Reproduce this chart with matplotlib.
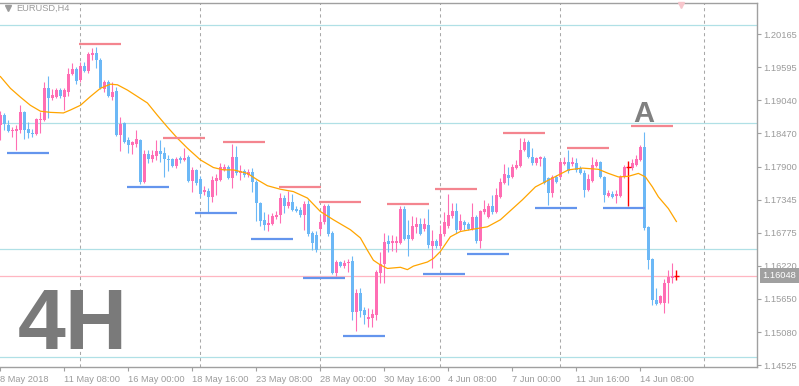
import matplotlib
matplotlib.use("Agg")
import matplotlib.pyplot as plt
from matplotlib.lines import Line2D

plt.rcParams['font.family'] = ['Liberation Sans', 'DejaVu Sans']

# EURUSD H4 candles, 8 May 2018 16:00 .. 15 Jun 2018 20:00 (one entry per bar)
opens = [
    1.1861, 1.1878, 1.1861, 1.1851, 1.1851, 1.1853, 1.1884, 1.1855, 1.1848, 1.1846,
    1.1870, 1.1870, 1.1924, 1.1907, 1.1909, 1.1921, 1.1909, 1.1918, 1.1948, 1.1957,
    1.1938, 1.1962, 1.1953, 1.1980, 1.1984, 1.1972, 1.1923, 1.1935, 1.1909, 1.1919,
    1.1844, 1.1865, 1.1836, 1.1827, 1.1829, 1.1836, 1.1765, 1.1812, 1.1804, 1.1809,
    1.1817, 1.1814, 1.1804, 1.1804, 1.1792, 1.1805, 1.1802, 1.1807, 1.1766, 1.1785,
    1.1770, 1.1748, 1.1749, 1.1739, 1.1766, 1.1768, 1.1785, 1.1790, 1.1771, 1.1807,
    1.1780, 1.1783, 1.1776, 1.1782, 1.1765, 1.1729, 1.1700, 1.1691, 1.1693, 1.1705,
    1.1708, 1.1737, 1.1724, 1.1731, 1.1719, 1.1717, 1.1708, 1.1727, 1.1678, 1.1674,
    1.1684, 1.1697, 1.1724, 1.1678, 1.1609, 1.1628, 1.1622, 1.1626, 1.1629, 1.1543,
    1.1575, 1.1546, 1.1531, 1.1532, 1.1537, 1.1609, 1.1624, 1.1663, 1.1660, 1.1660,
    1.1660, 1.1719, 1.1674, 1.1668, 1.1688, 1.1693, 1.1684, 1.1691, 1.1655, 1.1663,
    1.1655, 1.1676, 1.1690, 1.1707, 1.1715, 1.1683, 1.1697, 1.1693, 1.1684, 1.1705,
    1.1663, 1.1714, 1.1705, 1.1724, 1.1714, 1.1739, 1.1763, 1.1776, 1.1773, 1.1788,
    1.1792, 1.1819, 1.1833, 1.1807, 1.1797, 1.1804, 1.1805, 1.1771, 1.1746, 1.1773,
    1.1773, 1.1795, 1.1799, 1.1795, 1.1797, 1.1788, 1.1780, 1.1751, 1.1766, 1.1792,
    1.1799, 1.1773, 1.1741, 1.1744, 1.1741, 1.1741, 1.1773, 1.1790, 1.1788, 1.1793,
    1.1802, 1.1824, 1.1688, 1.1633, 1.1563, 1.1558, 1.1558, 1.1592, 1.1600, 1.1605,
]
highs = [
    1.1885, 1.1882, 1.1870, 1.1858, 1.1861, 1.1895, 1.1885, 1.1867, 1.1855, 1.1873,
    1.1884, 1.1935, 1.1945, 1.1923, 1.1924, 1.1924, 1.1924, 1.1958, 1.1967, 1.1960,
    1.1969, 1.1969, 1.1986, 1.1992, 1.1994, 1.1975, 1.1938, 1.1938, 1.1935, 1.1926,
    1.1875, 1.1867, 1.1841, 1.1834, 1.1853, 1.1838, 1.1819, 1.1819, 1.1819, 1.1836,
    1.1836, 1.1824, 1.1810, 1.1805, 1.1807, 1.1809, 1.1822, 1.1810, 1.1790, 1.1787,
    1.1775, 1.1758, 1.1754, 1.1775, 1.1778, 1.1797, 1.1795, 1.1793, 1.1829, 1.1826,
    1.1793, 1.1787, 1.1787, 1.1788, 1.1768, 1.1731, 1.1714, 1.1710, 1.1712, 1.1715,
    1.1746, 1.1742, 1.1749, 1.1744, 1.1724, 1.1722, 1.1732, 1.1734, 1.1681, 1.1680,
    1.1707, 1.1727, 1.1727, 1.1680, 1.1631, 1.1629, 1.1631, 1.1633, 1.1638, 1.1582,
    1.1583, 1.1551, 1.1549, 1.1548, 1.1614, 1.1645, 1.1678, 1.1674, 1.1674, 1.1672,
    1.1724, 1.1724, 1.1700, 1.1707, 1.1705, 1.1703, 1.1703, 1.1719, 1.1683, 1.1668,
    1.1691, 1.1714, 1.1744, 1.1729, 1.1729, 1.1710, 1.1700, 1.1697, 1.1729, 1.1708,
    1.1717, 1.1734, 1.1729, 1.1742, 1.1754, 1.1771, 1.1795, 1.1790, 1.1795, 1.1802,
    1.1839, 1.1839, 1.1836, 1.1822, 1.1807, 1.1809, 1.1809, 1.1773, 1.1776, 1.1776,
    1.1802, 1.1807, 1.1819, 1.1807, 1.1805, 1.1792, 1.1785, 1.1778, 1.1807, 1.1804,
    1.1800, 1.1775, 1.1751, 1.1749, 1.1751, 1.1776, 1.1793, 1.1800, 1.1804, 1.1810,
    1.1827, 1.1850, 1.1690, 1.1634, 1.1583, 1.1571, 1.1599, 1.1614, 1.1626, 1.1614,
]
lows = [
    1.1836, 1.1853, 1.1850, 1.1841, 1.1819, 1.1848, 1.1838, 1.1840, 1.1841, 1.1844,
    1.1848, 1.1868, 1.1873, 1.1904, 1.1907, 1.1907, 1.1887, 1.1911, 1.1946, 1.1931,
    1.1935, 1.1952, 1.1950, 1.1972, 1.1958, 1.1923, 1.1918, 1.1909, 1.1904, 1.1843,
    1.1817, 1.1831, 1.1814, 1.1812, 1.1824, 1.1761, 1.1763, 1.1797, 1.1799, 1.1802,
    1.1799, 1.1773, 1.1783, 1.1790, 1.1788, 1.1797, 1.1800, 1.1765, 1.1748, 1.1759,
    1.1739, 1.1742, 1.1714, 1.1731, 1.1742, 1.1766, 1.1783, 1.1770, 1.1754, 1.1776,
    1.1768, 1.1773, 1.1773, 1.1748, 1.1698, 1.1690, 1.1683, 1.1680, 1.1691, 1.1702,
    1.1695, 1.1712, 1.1720, 1.1715, 1.1714, 1.1705, 1.1683, 1.1673, 1.1648, 1.1645,
    1.1676, 1.1693, 1.1673, 1.1607, 1.1604, 1.1619, 1.1617, 1.1611, 1.1530, 1.1510,
    1.1534, 1.1522, 1.1517, 1.1517, 1.1529, 1.1592, 1.1592, 1.1645, 1.1646, 1.1645,
    1.1658, 1.1665, 1.1638, 1.1666, 1.1678, 1.1674, 1.1681, 1.1652, 1.1617, 1.1652,
    1.1652, 1.1673, 1.1686, 1.1703, 1.1678, 1.1681, 1.1683, 1.1683, 1.1683, 1.1660,
    1.1652, 1.1710, 1.1703, 1.1710, 1.1712, 1.1737, 1.1761, 1.1759, 1.1771, 1.1787,
    1.1790, 1.1817, 1.1805, 1.1793, 1.1793, 1.1792, 1.1761, 1.1725, 1.1739, 1.1763,
    1.1771, 1.1793, 1.1780, 1.1792, 1.1782, 1.1778, 1.1739, 1.1749, 1.1765, 1.1790,
    1.1771, 1.1731, 1.1739, 1.1737, 1.1729, 1.1739, 1.1771, 1.1724, 1.1785, 1.1792,
    1.1800, 1.1683, 1.1616, 1.1555, 1.1555, 1.1556, 1.1541, 1.1558, 1.1593, 1.1597,
]
closes = [
    1.1878, 1.1863, 1.1851, 1.1853, 1.1855, 1.1884, 1.1853, 1.1848, 1.1846, 1.1872,
    1.1872, 1.1924, 1.1907, 1.1912, 1.1921, 1.1911, 1.1921, 1.1948, 1.1957, 1.1936,
    1.1962, 1.1953, 1.1982, 1.1984, 1.1972, 1.1924, 1.1935, 1.1911, 1.1918, 1.1844,
    1.1863, 1.1833, 1.1827, 1.1833, 1.1838, 1.1765, 1.1812, 1.1804, 1.1810, 1.1817,
    1.1812, 1.1804, 1.1802, 1.1792, 1.1804, 1.1802, 1.1805, 1.1766, 1.1785, 1.1763,
    1.1744, 1.1751, 1.1739, 1.1768, 1.1771, 1.1790, 1.1790, 1.1771, 1.1807, 1.1780,
    1.1783, 1.1776, 1.1782, 1.1765, 1.1729, 1.1698, 1.1691, 1.1695, 1.1707, 1.1708,
    1.1737, 1.1724, 1.1731, 1.1717, 1.1715, 1.1708, 1.1727, 1.1676, 1.1660, 1.1648,
    1.1697, 1.1724, 1.1676, 1.1609, 1.1628, 1.1621, 1.1626, 1.1628, 1.1543, 1.1575,
    1.1544, 1.1537, 1.1534, 1.1539, 1.1611, 1.1624, 1.1662, 1.1658, 1.1663, 1.1663,
    1.1719, 1.1668, 1.1668, 1.1690, 1.1693, 1.1676, 1.1693, 1.1657, 1.1663, 1.1655,
    1.1676, 1.1697, 1.1708, 1.1715, 1.1683, 1.1698, 1.1691, 1.1684, 1.1705, 1.1663,
    1.1715, 1.1719, 1.1724, 1.1714, 1.1742, 1.1765, 1.1778, 1.1771, 1.1790, 1.1793,
    1.1819, 1.1833, 1.1807, 1.1797, 1.1805, 1.1807, 1.1763, 1.1746, 1.1773, 1.1765,
    1.1799, 1.1799, 1.1783, 1.1799, 1.1785, 1.1780, 1.1751, 1.1770, 1.1793, 1.1799,
    1.1773, 1.1742, 1.1746, 1.1739, 1.1744, 1.1773, 1.1790, 1.1790, 1.1797, 1.1804,
    1.1824, 1.1686, 1.1631, 1.1563, 1.1556, 1.1570, 1.1592, 1.1602, 1.1604, 1.1605,
]
red_bars = [157, 169]          # bars drawn as red OHLC crosses
last_price = 1.16048

# moving average (bar index, price)
ma_bars = [0, 2.5, 5, 7.5, 10, 12.5, 15.75, 17.5, 20, 22.5, 25, 27.5, 29.25, 31.75,
           34.25, 36.75, 39.25, 41.75, 44.25, 46.75, 50, 53.25, 55.75, 58.25, 61.75,
           64.25, 66.75, 70, 73.25, 76.75, 80, 83.25, 85, 87.5, 90, 91.75, 93.25, 95,
           96.75, 100, 101.75, 103.25, 106.75, 108.25, 110, 112.5, 115, 118.25, 121.75,
           125, 130.5, 133.75, 138, 142, 145.5, 149.5, 152, 154.5, 157, 159.5, 161.25,
           163, 164.5, 167, 169]
ma_vals = [1.1944, 1.1924, 1.1909, 1.1895, 1.1885, 1.1883, 1.1882, 1.1887, 1.1895, 1.1910,
           1.1924, 1.1931, 1.1930, 1.1921, 1.1910, 1.1899, 1.1878, 1.1858, 1.1839, 1.1822,
           1.1802, 1.1789, 1.1785, 1.1785, 1.1779, 1.1768, 1.1758, 1.1752, 1.1748, 1.1737,
           1.1714, 1.1700, 1.1693, 1.1683, 1.1669, 1.1648, 1.1631, 1.1623, 1.1617, 1.1619,
           1.1615, 1.1621, 1.1628, 1.1634, 1.1646, 1.1671, 1.1680, 1.1684, 1.1688, 1.1700,
           1.1734, 1.1756, 1.1771, 1.1785, 1.1788, 1.1786, 1.1779, 1.1773, 1.1774, 1.1779,
           1.1773, 1.1756, 1.1739, 1.1719, 1.1697]

# short resistance / support marks (start bar, level)
res_start = [19.75, 40.75, 55.75, 69.75, 79.75, 96.75, 108.75, 125.75, 141.75, 157.75]
res_level = [1.1999, 1.1840, 1.1833, 1.1755, 1.1731, 1.1727, 1.1753, 1.1847, 1.1823, 1.1859]
sup_start = [1.75, 31.75, 48.75, 62.75, 75.75, 85.75, 105.75, 116.75, 133.75, 150.75]
sup_level = [1.1814, 1.1756, 1.1712, 1.1668, 1.1601, 1.1502, 1.1608, 1.1642, 1.1720, 1.1720]
mark_len = 10.5

h_lines = [1.20318, 1.18643, 1.16496, 1.14656]
week_seps = [20, 50, 80, 110, 140, 176]

x_tick_bars = [0, 16, 32, 48, 64, 80, 96, 112, 128, 144, 160]
x_tick_labels = ['8 May 2018', '11 May 08:00', '16 May 00:00', '18 May 16:00',
                 '23 May 08:00', '28 May 00:00', '30 May 16:00', '4 Jun 08:00',
                 '7 Jun 00:00', '11 Jun 16:00', '14 Jun 08:00']
y_ticks = [1.20165, 1.19595, 1.19040, 1.18470, 1.17900, 1.17345,
           1.16775, 1.16220, 1.15650, 1.15080, 1.14525]

BULL = '#ff6eb4'
BEAR = '#6cb8f6'
GRAY = '#a0a0a0'
TXT = '#9b9b9b'

W, H = 799, 386
fig = plt.figure(figsize=(W / 100, H / 100), dpi=100)
ax = fig.add_axes([0, 1 - 367 / H, 757 / W, (367 - 2.5) / H])

ax.set_xlim(-0.1, 189.15)
ax.set_ylim(1.14491, 1.20702)

for b in week_seps:
    ax.axvline(b, color='#a8a8a8', lw=0.75, ls=(0, (3, 3)), zorder=1)
for lv in h_lines:
    ax.axhline(lv, color='#b0e0e6', lw=0.9, zorder=1)
ax.axhline(last_price, color='#ffb6c1', lw=0.9, zorder=1)

# candles
for i, (o, h, l, c) in enumerate(zip(opens, highs, lows, closes)):
    if i in red_bars:
        ax.vlines(i, l, h, color='#ff0000', lw=1.0, zorder=3)
        ax.hlines(c, i - 0.7, i + 0.7, color='#ff0000', lw=1.0, zorder=3)
        continue
    col = BULL if c >= o else BEAR
    ax.vlines(i, l, h, color=col, lw=0.8, zorder=2)
    ax.bar(i, max(abs(c - o), 0.00018), bottom=min(o, c), width=0.75,
           color=col, linewidth=0, zorder=2)

ax.plot(ma_bars, ma_vals, color='#ffa500', lw=0.9, zorder=3)

ax.hlines(res_level, res_start, [s + mark_len for s in res_start],
          color='#f4858f', lw=1.6, zorder=4)
ax.hlines(sup_level, sup_start, [s + mark_len for s in sup_start],
          color='#6495ed', lw=1.6, zorder=4)

# axes styling, MT4 look
for side in ['top', 'right', 'bottom']:
    ax.spines[side].set_color(GRAY)
    ax.spines[side].set_linewidth(1.0)
ax.spines['left'].set_visible(False)

ax.set_xticks(x_tick_bars)
ax.set_xticklabels(x_tick_labels, ha='left')
ax.yaxis.tick_right()
ax.set_yticks(y_ticks)
ax.set_yticklabels([f'{v:.5f}' for v in y_ticks])
ax.tick_params(axis='x', length=3, width=0.8, color=GRAY, labelcolor=TXT,
               labelsize=6.7, pad=2.5)
ax.tick_params(axis='y', length=3, width=0.8, color=GRAY, labelcolor=TXT,
               labelsize=6.7, pad=1.5)

ax.annotate(f'{last_price:.5f}', xy=(1, last_price), xycoords=('axes fraction', 'data'),
            xytext=(4, 0), textcoords='offset points', ha='left', va='center',
            fontsize=6.7, color='white', annotation_clip=False,
            bbox=dict(boxstyle='square,pad=0.3', fc=GRAY, ec='none'))

# overlay texts
fig.text(16 / W, 1 - 8 / H, 'EURUSD,H4', fontsize=6.7, color=TXT, va='center', ha='left')
fig.add_artist(Line2D([8 / W], [1 - 8 / H], marker='v', markersize=4, color=TXT,
                      linestyle='none', transform=fig.transFigure))
fig.add_artist(Line2D([681 / W], [1 - 5 / H], marker='v', markersize=5, color='#f7c6cc',
                      linestyle='none', transform=fig.transFigure))
fig.text(18 / W, 1 - 349 / H, '4H', fontsize=62, fontweight='bold', color='#7a7a7a',
         ha='left', va='baseline')
fig.text(644 / W, 1 - 122 / H, 'A', fontsize=21, fontweight='bold', color='#808080',
         ha='center', va='baseline')

fig.savefig('out.png', dpi=100)
